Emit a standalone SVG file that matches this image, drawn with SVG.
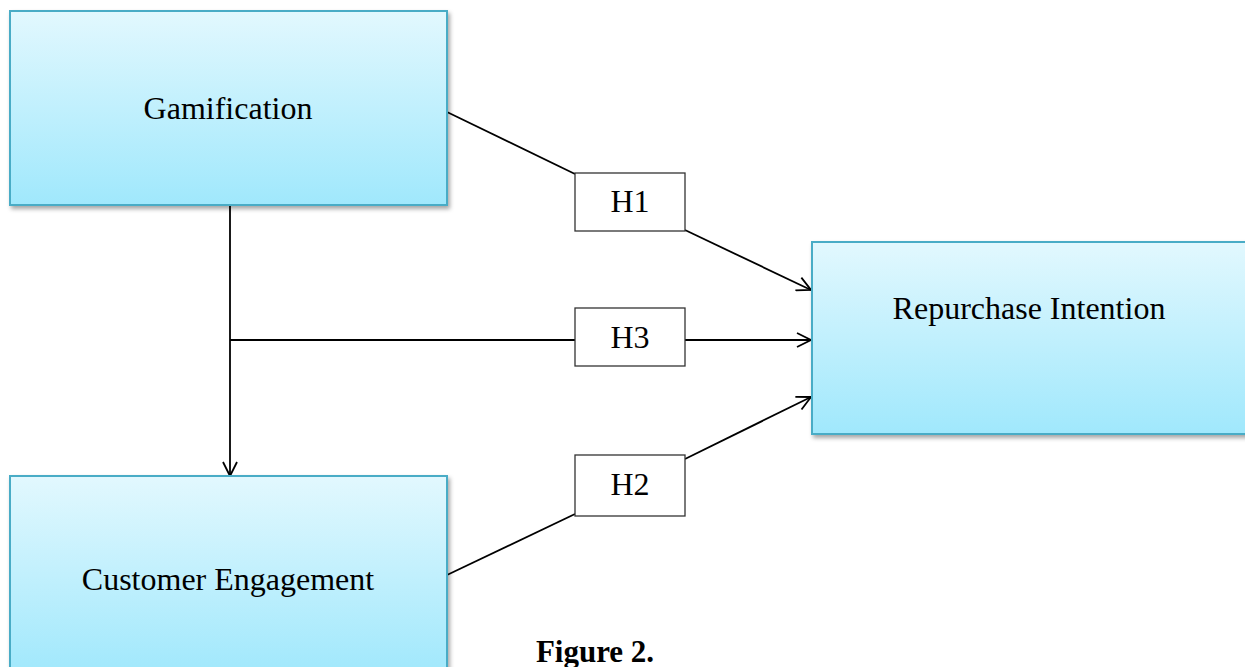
<svg xmlns="http://www.w3.org/2000/svg" width="1245" height="667" viewBox="0 0 1245 667">
<style>
.node{fill:url(#grad);stroke:#4aacc6;stroke-width:2;filter:url(#sh)}
.hbox{fill:#ffffff;stroke:#333333;stroke-width:1.3}
.lbl{font-family:"Liberation Serif","Times New Roman",serif;font-size:32px;fill:#000;text-anchor:middle}
.conn{stroke:#000;stroke-width:1.8;fill:none}
.arr{marker-end:url(#ah)}
.cap{font-family:"Liberation Serif","Times New Roman",serif;font-size:31px;font-weight:bold;fill:#000;text-anchor:middle}
</style>
<defs>
<linearGradient id="grad" x1="0" y1="0" x2="0" y2="1">
<stop offset="0" stop-color="#e2f8fe"/>
<stop offset="1" stop-color="#a0e8fc"/>
</linearGradient>
<filter id="sh" x="-5%" y="-5%" width="115%" height="115%">
<feDropShadow dx="2" dy="3" stdDeviation="2" flood-color="#000" flood-opacity="0.35"/>
</filter>
<marker id="ah" viewBox="0 0 16 16" refX="15" refY="8" markerWidth="16" markerHeight="16" markerUnits="userSpaceOnUse" orient="auto">
<path d="M1,1 L15,8 L1,15" fill="none" stroke="#000" stroke-width="1.8"/>
</marker>
</defs>
<g id="connectors">
<line class="conn" x1="447" y1="112" x2="575" y2="174"/>
<line class="conn arr" x1="685" y1="230" x2="811" y2="290"/>
<line class="conn" x1="230" y1="205" x2="230" y2="340"/>
<line class="conn arr" x1="230" y1="340" x2="230" y2="476"/>
<line class="conn" x1="230" y1="340" x2="575" y2="340"/>
<line class="conn arr" x1="685" y1="340" x2="811" y2="340"/>
<line class="conn" x1="447" y1="575" x2="575" y2="514"/>
<line class="conn arr" x1="685" y1="459" x2="811" y2="397"/>
</g>
<g id="gamification">
<rect class="node" x="10" y="11" width="437" height="194"/>
<text class="lbl" x="228" y="119">Gamification</text>
</g>
<g id="customer-engagement">
<rect class="node" x="10" y="476" width="437" height="200"/>
<text class="lbl" x="228" y="590">Customer Engagement</text>
</g>
<g id="repurchase-intention">
<rect class="node" x="812" y="242" width="440" height="192"/>
<text class="lbl" x="1029" y="319">Repurchase Intention</text>
</g>
<g id="h1">
<rect class="hbox" x="575" y="173" width="110" height="58"/>
<text class="lbl" x="630" y="212">H1</text>
</g>
<g id="h3">
<rect class="hbox" x="575" y="308" width="110" height="58"/>
<text class="lbl" x="630" y="348">H3</text>
</g>
<g id="h2">
<rect class="hbox" x="575" y="455" width="110" height="61"/>
<text class="lbl" x="630" y="495">H2</text>
</g>
<text class="cap" x="595" y="662">Figure 2.</text>
</svg>
